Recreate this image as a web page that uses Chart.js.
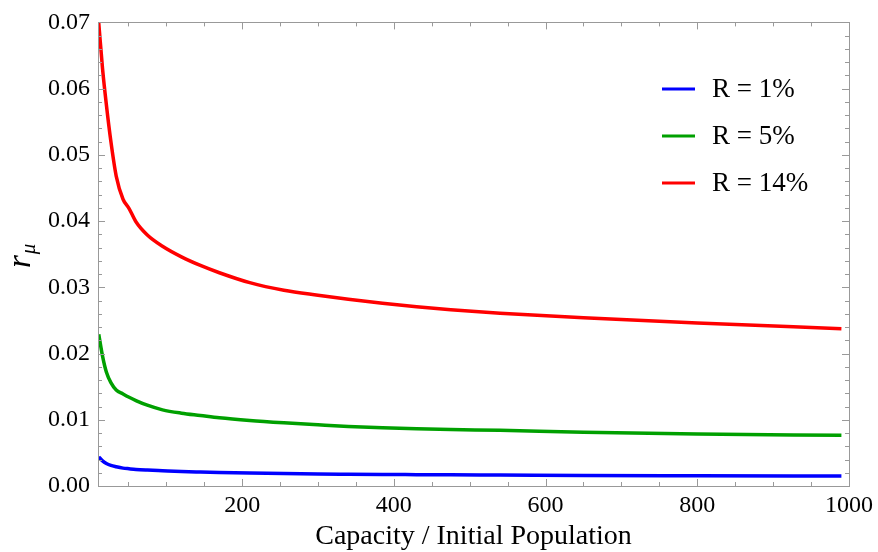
<!DOCTYPE html>
<html>
<head>
<meta charset="utf-8">
<script src="https://cdn.jsdelivr.net/npm/chart.js@4.4.0/dist/chart.umd.min.js"></script>
<style>
html,body{margin:0;padding:0;background:#fff;}
canvas{display:block;}
</style>
</head>
<body>
<canvas id="c" width="878" height="552"></canvas>
<script>
// ---- data ----
const capacity = [11, 16, 21, 27, 34, 43, 51, 60, 75, 95, 120, 145, 170, 210, 255, 300, 340, 385, 430, 475, 540, 650, 800, 990];
const r1  = [0.0044, 0.0038, 0.0034, 0.0031, 0.0029, 0.0027, 0.0026, 0.0025, 0.0024, 0.0023, 0.00218, 0.0021, 0.00203, 0.00195, 0.00188, 0.00182, 0.00178, 0.00174, 0.00171, 0.00168, 0.00165, 0.0016, 0.00155, 0.0015];
const r5  = [0.0229, 0.0196, 0.0172, 0.0156, 0.0145, 0.0139, 0.0134, 0.0129, 0.0122, 0.0115, 0.0110, 0.01065, 0.0103, 0.0099, 0.00955, 0.00925, 0.0090, 0.0088, 0.00865, 0.00853, 0.0084, 0.0081, 0.00785, 0.00765];
const r14 = [0.0699, 0.0630, 0.0576, 0.0520, 0.0468, 0.0433, 0.0419, 0.0399, 0.0379, 0.0362, 0.0346, 0.0333, 0.0322, 0.0307, 0.02955, 0.0288, 0.0282, 0.0276, 0.02708, 0.02663, 0.0261, 0.0254, 0.0246, 0.02375];
const seriesLabels = ['R = 1%', 'R = 5%', 'R = 14%'];
const xTickValues = [200, 400, 600, 800, 1000];
const yTickValues = [0, 0.01, 0.02, 0.03, 0.04, 0.05, 0.06, 0.07];
const xTitle = 'Capacity / Initial Population';

const SERIF = '"Liberation Serif", "DejaVu Serif", serif';
const colors = ['#0000ff', '#00a000', '#ff0000'];
const FRAME = '#999999';

function pts(ys){ return capacity.map((x,i)=>({x:x, y:ys[i]})); }

const framePlugin = {
  id: 'frame',
  afterDraw(chart){
    const ctx = chart.ctx, a = chart.chartArea;
    const xs = chart.scales.x, ys = chart.scales.y;
    ctx.save();
    ctx.strokeStyle = FRAME;
    ctx.lineWidth = 1;
    ctx.strokeRect(Math.round(a.left)+0.5, Math.round(a.top)+0.5, Math.round(a.right-a.left), Math.round(a.bottom-a.top));
    ctx.beginPath();
    // x ticks (minor every 50, major at labels)
    for (let v = 50; v <= xs.max; v += 50) {
      if (v < xs.min) continue;
      const major = xTickValues.includes(v);
      const L = major ? 7 : 4;
      const p = Math.round(xs.getPixelForValue(v)) + 0.5;
      ctx.moveTo(p, a.bottom); ctx.lineTo(p, a.bottom - L);
      ctx.moveTo(p, a.top); ctx.lineTo(p, a.top + L);
    }
    // y ticks (minor every 0.002)
    for (let k = 0; k <= 35; k++) {
      const v = k * 0.002;
      const major = (k % 5 === 0);
      const L = major ? 7 : 4;
      const p = Math.round(ys.getPixelForValue(v)) + 0.5;
      ctx.moveTo(a.left, p); ctx.lineTo(a.left + L, p);
      ctx.moveTo(a.right, p); ctx.lineTo(a.right - L, p);
    }
    ctx.stroke();

    // legend
    const lx = 662, lw = 33, tx = 712, ly0 = 89, dy = 47;
    chart.data.datasets.forEach((ds, i) => {
      const y = ly0 + i * dy;
      ctx.strokeStyle = ds.borderColor;
      ctx.lineWidth = 3;
      ctx.beginPath(); ctx.moveTo(lx, y); ctx.lineTo(lx + lw, y); ctx.stroke();
      ctx.fillStyle = '#000';
      ctx.font = '27px ' + SERIF;
      ctx.textBaseline = 'middle';
      ctx.textAlign = 'left';
      ctx.fillText(ds.label, tx, y + 1);
    });

    // x title
    ctx.fillStyle = '#000';
    ctx.font = '28px ' + SERIF;
    ctx.textAlign = 'center';
    ctx.textBaseline = 'middle';
    ctx.fillText(xTitle, (a.left + a.right) / 2, 537);

    // y title: r with subscript mu, rotated
    ctx.save();
    ctx.translate(30, 268);
    ctx.rotate(-Math.PI / 2);
    ctx.textAlign = 'left';
    ctx.textBaseline = 'alphabetic';
    ctx.font = 'italic 33px ' + SERIF;
    ctx.fillText('r', 0, 0);
    const w = ctx.measureText('r').width;
    ctx.font = 'italic 21px ' + SERIF;
    ctx.fillText('\u03bc', w + 1, 5);
    ctx.restore();

    ctx.restore();
  }
};

new Chart(document.getElementById('c'), {
  type: 'line',
  data: {
    datasets: [
      { label: seriesLabels[0], data: pts(r1),  borderColor: colors[0] },
      { label: seriesLabels[1], data: pts(r5),  borderColor: colors[1] },
      { label: seriesLabels[2], data: pts(r14), borderColor: colors[2] }
    ]
  },
  options: {
    responsive: false,
    animation: false,
    devicePixelRatio: 1,
    layout: { padding: { left: 0, top: 20, right: 27, bottom: 0 } },
    elements: {
      point: { radius: 0 },
      line: { borderWidth: 3.5, fill: false, cubicInterpolationMode: 'monotone' }
    },
    plugins: { legend: { display: false }, tooltip: { enabled: false } },
    scales: {
      x: {
        type: 'linear', min: 10, max: 1000,
        grid: { display: false, drawTicks: false },
        border: { display: false },
        ticks: { font: { family: SERIF, size: 24 }, color: '#000', padding: 5, maxRotation: 0, autoSkip: false, callback: v => String(v) },
        afterBuildTicks: s => { s.ticks = xTickValues.map(v => ({ value: v })); },
        afterFit: s => { s.height = 66; }
      },
      y: {
        type: 'linear', min: 0, max: 0.07,
        grid: { display: false, drawTicks: false },
        border: { display: false },
        ticks: { font: { family: SERIF, size: 24 }, color: '#000', padding: 8, callback: v => Number(v).toFixed(2) },
        afterBuildTicks: s => { s.ticks = yTickValues.map(v => ({ value: v })); },
        afterFit: s => { s.width = 98; }
      }
    }
  },
  plugins: [framePlugin]
});
</script>
</body>
</html>
